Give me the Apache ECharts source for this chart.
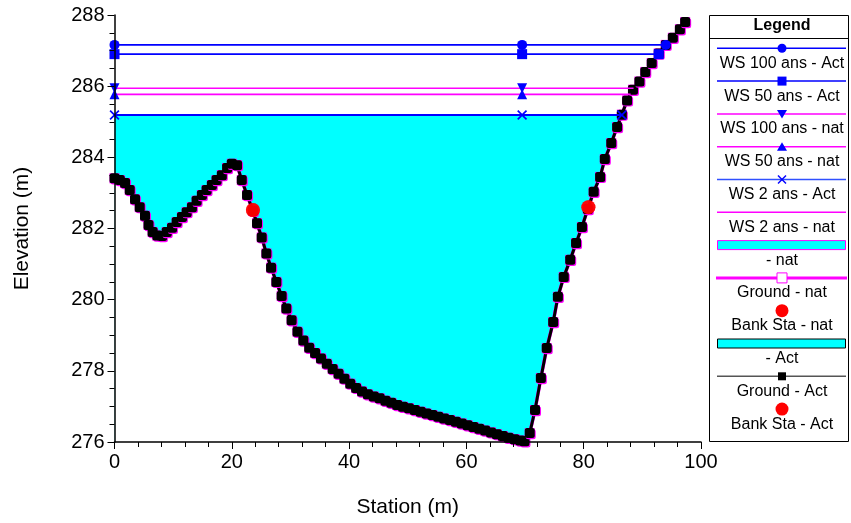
<!DOCTYPE html>
<html>
<head>
<meta charset="utf-8">
<script src="https://cdn.jsdelivr.net/npm/echarts@6/dist/echarts.min.js"></script>
<style>
html, body { margin: 0; padding: 0; background: #fff; }
#chart { width: 851px; height: 523px; }
</style>
</head>
<body>
<div id="chart"></div>
<script>
// profil du terrain (station, elevation)
const groundStation = [0, 0.9, 1.8, 2.6, 3.5, 4.3, 5.2, 5.8, 6.5, 7.3, 8.1, 8.9, 9.8, 10.6, 11.5, 12.3,
    13.2, 14.0, 14.9, 15.7, 16.6, 17.4, 18.3, 19.2, 20.0, 20.9, 21.7, 22.6, 23.6, 24.3, 25.1, 25.9,
    26.7, 27.6, 28.5, 29.3, 30.2, 31.2, 32.2, 33.2, 34.2, 35.2, 36.2, 37.2, 38.2, 39.2, 40.2, 41.2,
    42.2, 43.2, 44.2, 45.2, 46.2, 47.2, 48.2, 49.2, 50.2, 51.2, 52.2, 53.2, 54.2, 55.2, 56.2, 57.2,
    58.2, 59.2, 60.2, 61.2, 62.2, 63.2, 64.2, 65.2, 66.2, 67.2, 68.2, 69.2, 69.9, 70.8, 71.7, 72.7,
    73.7, 74.8, 75.6, 76.6, 77.7, 78.7, 79.7, 80.7, 81.7, 82.8, 83.6, 84.7, 85.7, 86.5, 87.4, 88.4,
    89.5, 90.5, 91.6, 92.8, 94.0, 95.2, 96.4, 97.3];
const groundElev = [283.41, 283.36, 283.28, 283.08, 282.82, 282.6, 282.36, 282.1, 281.9, 281.8, 281.79, 281.9,
    282.02, 282.18, 282.32, 282.46, 282.6, 282.78, 282.94, 283.08, 283.22, 283.36, 283.5, 283.7, 283.82, 283.78,
    283.36, 282.94, 282.5, 282.15, 281.75, 281.3, 280.9, 280.5, 280.1, 279.75, 279.42, 279.1, 278.85, 278.65,
    278.5, 278.35, 278.2, 278.05, 277.92, 277.78, 277.64, 277.52, 277.42, 277.34, 277.28, 277.23, 277.16, 277.1,
    277.04, 276.99, 276.95, 276.9, 276.85, 276.8, 276.76, 276.71, 276.66, 276.62, 276.57, 276.52, 276.47, 276.42,
    276.37, 276.32, 276.27, 276.22, 276.17, 276.12, 276.08, 276.04, 276.02, 276.25, 276.9, 277.8, 278.64, 279.37,
    280.08, 280.64, 281.12, 281.59, 282.04, 282.55, 283.03, 283.45, 283.95, 284.4, 284.85, 285.2, 285.6, 285.9,
    286.13, 286.4, 286.65, 286.92, 287.16, 287.36, 287.6, 287.8];

// berges
const bankStation = [23.6, 80.8];
const bankElev = [282.52, 282.6];

// niveaux d'eau
const wsNames = ['WS 100 ans - Act', 'WS 50 ans - Act', 'WS 100 ans - nat', 'WS 50 ans - nat', 'WS 2 ans - Act', 'WS 2 ans - nat'];
const wsElev = [287.16, 286.9, 285.94, 285.77, 285.19, 285.19];
const wsRightStation = [94.0, 92.8, 88.5, 88.0, 86.5, 86.5];
const wsMidStation = 69.5;

// legende
const legendNames = ['WS 100 ans - Act', 'WS 50 ans - Act', 'WS 100 ans - nat', 'WS 50 ans - nat',
    'WS 2 ans - Act', 'WS 2 ans - nat', '- nat', 'Ground - nat', 'Bank Sta - nat', '- Act',
    'Ground - Act', 'Bank Sta - Act'];

const BLUE = '#0000ff';
const MAGENTA = '#ff00ff';
const CYAN = '#00ffff';
const FONT = 'Arial, "Liberation Sans", sans-serif';
const X_SYMBOL = 'path://M0,1.2 L1.2,0 L5,3.8 L8.8,0 L10,1.2 L6.2,5 L10,8.8 L8.8,10 L5,6.2 L1.2,10 L0,8.8 L3.8,5 Z';

const groundData = groundStation.map((s, i) => [s, groundElev[i]]);
const bankData = bankStation.map((s, i) => [s, bankElev[i]]);

// style des marqueurs par niveau d'eau
const wsStyle = [
    {color: BLUE, symbol: 'circle', size: 10, rot: 0, rightMark: true},
    {color: BLUE, symbol: 'rect', size: 10, rot: 0, rightMark: true},
    {color: MAGENTA, symbol: 'triangle', size: 10, rot: 180, rightMark: false},
    {color: MAGENTA, symbol: 'triangle', size: 10, rot: 0, rightMark: false},
    {color: BLUE, symbol: X_SYMBOL, size: 10, rot: 0, rightMark: true},
    {color: MAGENTA, symbol: 'none', size: 0, rot: 0, rightMark: false}
];

function wsSeries(i) {
    const st = wsStyle[i];
    const e = wsElev[i];
    return {
        name: wsNames[i],
        type: 'line',
        z: 6 + (5 - i) * 0.1,
        symbol: st.symbol,
        symbolSize: st.size,
        symbolRotate: st.rot,
        lineStyle: {color: st.color, width: i === 4 ? 2 : 1.6},
        itemStyle: {color: BLUE},
        animation: false,
        data: [
            [0, e],
            [wsMidStation, e],
            st.rightMark ? [wsRightStation[i], e] : {value: [wsRightStation[i], e], symbol: 'none'}
        ]
    };
}

const series = [];

// remplissage d'eau (cyan) sous WS 2 ans
series.push({
    name: 'fill', type: 'line', z: 1, symbol: 'none', animation: false,
    lineStyle: {width: 0},
    areaStyle: {color: CYAN, opacity: 1, origin: 'start'},
    data: [[0, wsElev[4]], [wsRightStation[4], wsElev[4]]]
});
// masque blanc sous le terrain
series.push({
    name: 'mask', type: 'line', z: 2, symbol: 'none', animation: false,
    lineStyle: {width: 0},
    areaStyle: {color: '#fff', opacity: 1, origin: 'start'},
    data: groundData
});
// Ground - nat
series.push({
    name: 'Ground - nat', type: 'line', z: 3, animation: false,
    symbol: 'rect', symbolSize: 10,
    lineStyle: {color: MAGENTA, width: 3.5},
    itemStyle: {color: MAGENTA},
    data: groundData
});
// Ground - Act
series.push({
    name: 'Ground - Act', type: 'line', z: 4, animation: false,
    symbol: 'roundRect', symbolSize: 10,
    lineStyle: {color: '#000', width: 3},
    itemStyle: {color: '#000', shadowColor: MAGENTA, shadowBlur: 0, shadowOffsetX: 1, shadowOffsetY: 1.2},
    data: groundData
});
for (let i = 0; i < wsElev.length; i++) series.push(wsSeries(i));
// Bank Sta
series.push({
    name: 'Bank Sta - nat', type: 'scatter', z: 8, animation: false,
    symbol: 'circle', symbolSize: 14, itemStyle: {color: '#ff0000'}, data: bankData
});
series.push({
    name: 'Bank Sta - Act', type: 'scatter', z: 8, animation: false,
    symbol: 'circle', symbolSize: 14, itemStyle: {color: '#ff0000'}, data: bankData
});

// construction de la legende a la main (symbole au-dessus du texte)
function buildLegend() {
    const els = [];
    const cx = 782, x0 = 717, x1 = 846;
    els.push({type: 'rect', shape: {x: 709.5, y: 15.5, width: 139, height: 426},
        style: {fill: '#fff', stroke: '#000', lineWidth: 1}});
    els.push({type: 'text', style: {text: 'Legend', x: cx, y: 26, align: 'center', verticalAlign: 'middle',
        font: 'bold 16px ' + FONT, fill: '#000'}});
    els.push({type: 'line', shape: {x1: 709.5, y1: 38.5, x2: 848.5, y2: 38.5}, style: {stroke: '#000', lineWidth: 1}});

    const kinds = ['circle', 'square', 'down', 'up', 'x', 'none', 'rectNat', 'groundNat', 'dot', 'rectAct', 'groundAct', 'dot'];
    const lineColors = [BLUE, BLUE, MAGENTA, MAGENTA, '#3050ff', MAGENTA];
    legendNames.forEach((name, i) => {
        const y = 48.3 + 32.8 * i;
        const k = kinds[i];
        if (i < 6) {
            els.push({type: 'line', shape: {x1: x0, y1: y, x2: x1, y2: y}, style: {stroke: lineColors[i], lineWidth: 1.5}});
        }
        if (k === 'circle') {
            els.push({type: 'circle', shape: {cx: cx, cy: y, r: 4.5}, style: {fill: BLUE}});
        } else if (k === 'square') {
            els.push({type: 'rect', shape: {x: cx - 4.5, y: y - 4.5, width: 9, height: 9}, style: {fill: BLUE}});
        } else if (k === 'down') {
            els.push({type: 'polygon', shape: {points: [[cx - 5, y - 4], [cx + 5, y - 4], [cx, y + 4.5]]}, style: {fill: BLUE}});
        } else if (k === 'up') {
            els.push({type: 'polygon', shape: {points: [[cx - 5, y + 4], [cx + 5, y + 4], [cx, y - 4.5]]}, style: {fill: BLUE}});
        } else if (k === 'x') {
            els.push({type: 'line', shape: {x1: cx - 4, y1: y - 4, x2: cx + 4, y2: y + 4}, style: {stroke: BLUE, lineWidth: 1.5}});
            els.push({type: 'line', shape: {x1: cx - 4, y1: y + 4, x2: cx + 4, y2: y - 4}, style: {stroke: BLUE, lineWidth: 1.5}});
        } else if (k === 'rectNat' || k === 'rectAct') {
            els.push({type: 'rect', shape: {x: x0 + 0.5, y: y - 4.5, width: 128, height: 9},
                style: {fill: CYAN, stroke: k === 'rectNat' ? MAGENTA : '#000', lineWidth: 1}});
        } else if (k === 'groundNat') {
            els.push({type: 'line', shape: {x1: x0 - 1, y1: y, x2: x1 + 1, y2: y}, style: {stroke: MAGENTA, lineWidth: 3}});
            els.push({type: 'rect', shape: {x: cx - 5, y: y - 5, width: 10, height: 10}, style: {fill: '#fff', stroke: MAGENTA, lineWidth: 1}});
        } else if (k === 'groundAct') {
            els.push({type: 'line', shape: {x1: x0, y1: y, x2: x1, y2: y}, style: {stroke: '#555', lineWidth: 1.5}});
            els.push({type: 'rect', shape: {x: cx - 4, y: y - 4, width: 8, height: 8}, style: {fill: '#000'}});
        } else if (k === 'dot') {
            els.push({type: 'circle', shape: {cx: cx, cy: y, r: 6.5}, style: {fill: '#ff0000'}});
        }
        els.push({type: 'text', style: {text: name, x: cx, y: y + 15, align: 'center', verticalAlign: 'middle',
            font: '16px ' + FONT, fill: '#000'}});
    });
    return els;
}

const chart = echarts.init(document.getElementById('chart'), null, {renderer: 'canvas'});
chart.setOption({
    backgroundColor: '#fff',
    animation: false,
    grid: {left: 114.5, top: 15, right: 150, bottom: 81, containLabel: false},
    xAxis: {
        type: 'value', min: 0, max: 100, interval: 20, z: 10,
        name: 'Station (m)', nameLocation: 'middle', nameGap: 55,
        nameTextStyle: {fontSize: 21, fontFamily: FONT, color: '#000'},
        axisLine: {onZero: false, lineStyle: {color: '#000', width: 1.5}},
        axisTick: {length: 7, lineStyle: {color: '#000'}},
        minorTick: {show: true, splitNumber: 5, length: 5, lineStyle: {color: '#000'}},
        axisLabel: {fontSize: 20, fontFamily: FONT, color: '#000', margin: 10},
        splitLine: {show: false}
    },
    yAxis: {
        type: 'value', min: 276, max: 288, interval: 2, z: 10,
        name: 'Elevation (m)', nameLocation: 'middle', nameGap: 82, nameRotate: 90,
        nameTextStyle: {fontSize: 21, fontFamily: FONT, color: '#000'},
        axisLine: {show: true, onZero: false, lineStyle: {color: '#000', width: 1.5}},
        axisTick: {show: true, length: 7, lineStyle: {color: '#000'}},
        minorTick: {show: true, splitNumber: 4, length: 5, lineStyle: {color: '#000'}},
        axisLabel: {fontSize: 20, fontFamily: FONT, color: '#000', margin: 10},
        splitLine: {show: false}
    },
    graphic: buildLegend(),
    series: series
});
</script>
</body>
</html>
